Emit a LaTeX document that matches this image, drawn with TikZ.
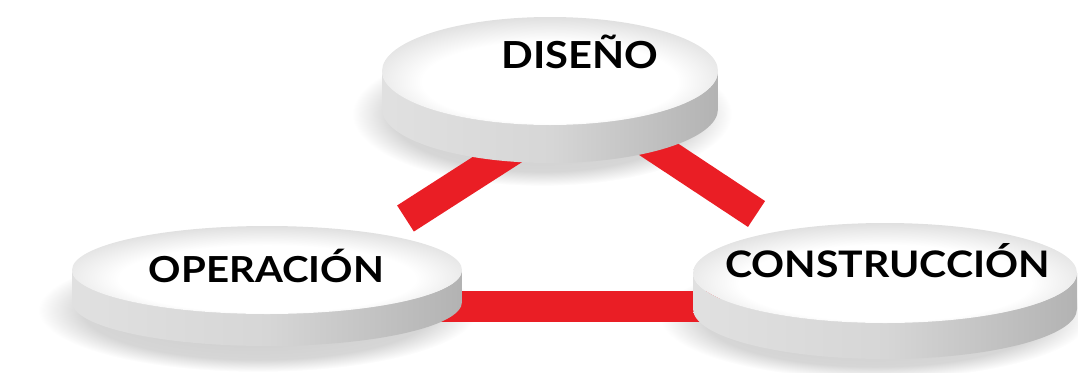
\documentclass[tikz,border=0pt]{standalone}
\usepackage{fontspec}
\setmainfont{Lato}
\newfontfamily\discfont{Lato}[FakeStretch=1.12]
\definecolor{barred}{RGB}{234,30,37}
\pgfdeclareradialshading{faceshade}{\pgfpoint{0bp}{-8bp}}{color(0bp)=(white); color(19bp)=(white); color(29bp)=(black!13); color(50bp)=(black!13)}
\pgfdeclareradialshading{shadowshade}{\pgfpointorigin}{color(0bp)=(black!22); color(20bp)=(black!16); color(25bp)=(white); color(50bp)=(white)}

\begin{document}
\begin{tikzpicture}[redbar/.style={line width=0.31cm, color=barred},
	discface/.style={shading=faceshade},
	discside/.style={left color=black!12, right color=black!30, middle color=black!16},
	discshadow/.style={shading=shadowshade},
	disctext/.style={anchor=base, font=\discfont\bfseries\fontsize{10.4}{12}\selectfont}]
			\useasboundingbox (0,0) rectangle (10.78,3.72);
			% soft shadows under the discs
			\shade[discshadow] (5.42,2.58) ellipse (1.9 and 0.72);
			\shade[discshadow] (2.58,0.62) ellipse (2.2 and 0.62);
			\shade[discshadow] (8.75,0.55) ellipse (2.15 and 0.62);
			% red bars
			\coordinate (dis-l) at (5.20,2.27);
			\coordinate (dis-r) at (6.37,2.37);
			\coordinate (op-t) at (4.055,1.535);
			\coordinate (op-r) at (4.40,0.66);
			\coordinate (con-t) at (7.565,1.58);
			\coordinate (con-l) at (7.20,0.66);
			\draw[redbar] (op-t) -- (dis-l);
			\draw[redbar] (con-t) -- (dis-r);
			\draw[redbar] (op-r) -- (con-l);
			% top disc
			\shade[discside] (3.82,3.01) arc[start angle=180, end angle=360, x radius=1.68, y radius=0.54] -- ++(0,-0.38) arc[start angle=0, end angle=-180, x radius=1.68, y radius=0.54] -- cycle;
			\shade[discface] (5.50,3.01) ellipse (1.68 and 0.54);
			% left disc
			\shade[discside] (0.72,1.02) arc[start angle=180, end angle=360, x radius=1.95, y radius=0.44] -- ++(0,-0.32) arc[start angle=0, end angle=-180, x radius=1.95, y radius=0.44] -- cycle;
			\shade[discface] (2.67,1.02) ellipse (1.95 and 0.44);
			% right disc
			\shade[discside] (6.93,0.99) arc[start angle=180, end angle=360, x radius=1.92, y radius=0.50] -- ++(0,-0.36) arc[start angle=0, end angle=-180, x radius=1.92, y radius=0.50] -- cycle;
			\shade[discface] (8.85,0.99) ellipse (1.92 and 0.50);
			% labels
			\node[disctext, font=\discfont\bfseries\fontsize{10.6}{12}\selectfont] (diseno) at (5.80,3.035) {DISEÑO};
			\node[disctext, font=\discfont\bfseries\fontsize{10.2}{12}\selectfont] (operacion) at (2.665,0.90) {OPERACIÓN};
			\node[disctext] (construccion) at (8.875,0.95) {CONSTRUCCIÓN};
\end{tikzpicture}
\end{document}
